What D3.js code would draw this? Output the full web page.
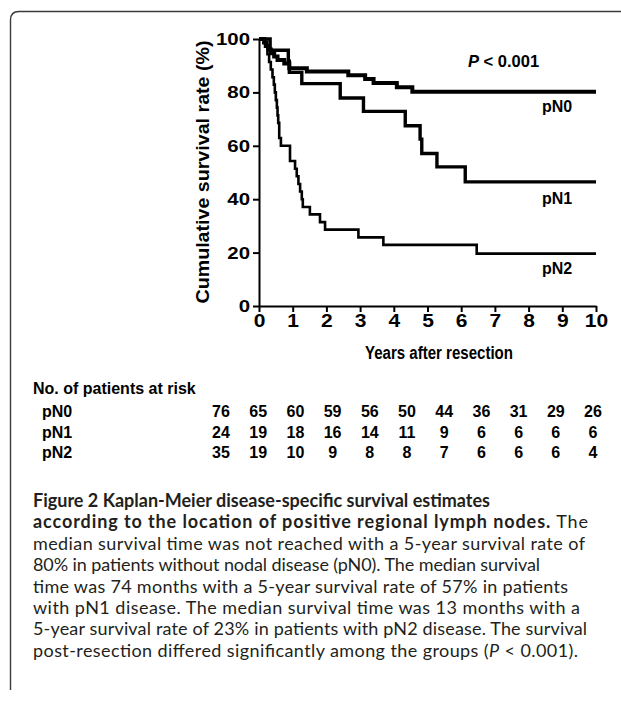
<!DOCTYPE html>
<html>
<head>
<meta charset="utf-8">
<script src="https://cdn.jsdelivr.net/npm/d3@7"></script>
<style>
  body { margin: 0; background: #fff; }
  svg { display: block; }
  .axis path, .axis line { stroke: #000; stroke-width: 2px; }
  .axis text { font-family: "Liberation Sans", Arial, sans-serif; font-weight: bold; font-size: 17px; fill: #000; }
  .lbl { font-family: "Liberation Sans", Arial, sans-serif; font-weight: bold; fill: #000; }
  .cap { font-family: Lato, "Open Sans", sans-serif; font-size: 18px; fill: #231f20; }
</style>
</head>
<body>
<div id="chart"></div>
<script>
// Axis ticks
const years = [0, 1, 2, 3, 4, 5, 6, 7, 8, 9, 10];
const yTicks = [0, 20, 40, 60, 80, 100];

// Kaplan-Meier steps (years, survival %)
const timesN0 = [0, 0.15, 0.22, 0.28, 0.35, 0.45, 0.55, 0.75, 0.9, 1.42, 2.65, 3.15, 3.4, 4.09, 4.55, 10];
const survN0  = [100, 98.7, 97.4, 96.1, 94.7, 93.4, 92.1, 90.8, 89.0, 87.8, 86.4, 85.0, 83.5, 81.9, 80.2, 80.2];

const timesN1 = [0, 0.33, 0.87, 0.9, 1.27, 2.41, 3.1, 4.34, 4.78, 4.83, 5.28, 6.12, 10];
const survN1  = [100, 95.8, 91.7, 87.5, 83.3, 77.9, 72.9, 67.5, 62.5, 57.1, 52.1, 46.5, 46.5];

const timesN2 = [0, 0.18, 0.25, 0.3, 0.35, 0.4, 0.44, 0.47, 0.5, 0.53, 0.55, 0.57, 0.6, 0.65, 0.92,
                 1.07, 1.12, 1.17, 1.22, 1.27, 1.3, 1.51, 1.81, 1.96, 2.95, 3.69, 6.46, 10];
const survN2  = [100, 97.1, 94.3, 91.4, 88.6, 85.7, 82.9, 80.0, 77.1, 74.3, 71.4, 68.6, 62.9, 60.0, 54.3,
                 51.4, 48.6, 45.7, 42.9, 40.0, 37.1, 34.3, 31.4, 28.6, 25.7, 22.9, 19.6, 19.6];

// Number at risk table
const groups = ["pN0", "pN1", "pN2"];
const atRiskN0 = [76, 65, 60, 59, 56, 50, 44, 36, 31, 29, 26];
const atRiskN1 = [24, 19, 18, 16, 14, 11, 9, 6, 6, 6, 6];
const atRiskN2 = [35, 19, 10, 9, 8, 8, 7, 6, 6, 6, 4];

const W = 621, H = 703;

const svg = d3.select("#chart")
    .append("svg")
    .attr("width", W)
    .attr("height", H);

// panel frame (rounded top-left corner)
svg.append("path")
    .attr("d", "M621,11.5 H19 Q10.5,11.5 10.5,20 V690")
    .attr("fill", "none")
    .attr("stroke", "#3a3a3a")
    .attr("stroke-width", 1.4);

// scales
const x = d3.scaleLinear().domain([0, 10]).range([259, 596]);
const y = d3.scaleLinear().domain([0, 100]).range([306, 39]);

// curves
const series = [
    { name: "pN0", t: timesN0, s: survN0, w: 4.0, ly: 112 },
    { name: "pN1", t: timesN1, s: survN1, w: 3.4, ly: 203.5 },
    { name: "pN2", t: timesN2, s: survN2, w: 2.6, ly: 273.5 }
];

const line = d3.line()
    .x(d => x(d[0]))
    .y(d => y(d[1]))
    .curve(d3.curveStepAfter);

series.forEach(sr => {
    svg.append("path")
        .datum(d3.zip(sr.t, sr.s))
        .attr("d", line)
        .attr("fill", "none")
        .attr("stroke", "#000")
        .attr("stroke-width", sr.w)
        .attr("stroke-linejoin", "miter");

    svg.append("text")
        .attr("class", "lbl")
        .attr("x", 542)
        .attr("y", sr.ly)
        .style("font-size", "16px")
        .text(sr.name);
});

// x axis
const gx = svg.append("g")
    .attr("class", "axis")
    .attr("transform", "translate(0,306)")
    .call(d3.axisBottom(x).tickValues(years).tickSize(6).tickSizeOuter(0));
gx.selectAll("text").attr("transform", "scale(1.2,1)").style("font-size", "17.5px");

// y axis
const gy = svg.append("g")
    .attr("class", "axis")
    .attr("transform", "translate(259,0)")
    .call(d3.axisLeft(y).tickValues(yTicks).tickSize(6).tickSizeOuter(0));
gy.selectAll("text").attr("x", -7.5).attr("transform", "scale(1.2,1)");

// axis titles
svg.append("text")
    .attr("class", "lbl")
    .attr("transform", "translate(209,172) rotate(-90)")
    .attr("text-anchor", "middle")
    .attr("textLength", 263)
    .attr("lengthAdjust", "spacingAndGlyphs")
    .style("font-size", "18.5px")
    .text("Cumulative survival rate (%)");

svg.append("text")
    .attr("class", "lbl")
    .attr("x", 439)
    .attr("y", 358.5)
    .attr("text-anchor", "middle")
    .attr("textLength", 148)
    .attr("lengthAdjust", "spacingAndGlyphs")
    .style("font-size", "18px")
    .text("Years after resection");

// P value
const pv = svg.append("text")
    .attr("class", "lbl")
    .attr("x", 468)
    .attr("y", 66.5)
    .style("font-size", "16.5px");
pv.append("tspan").style("font-style", "italic").text("P");
pv.append("tspan").text(" < 0.001");

// number at risk
svg.append("text")
    .attr("class", "lbl")
    .attr("x", 33)
    .attr("y", 393.5)
    .style("font-size", "16px")
    .text("No. of patients at risk");

const col = d3.scalePoint().domain(years).range([221, 593]);
const rows = [atRiskN0, atRiskN1, atRiskN2];
const rowY = d3.scalePoint().domain(groups).range([417, 458]);

groups.forEach((g, i) => {
    svg.append("text")
        .attr("class", "lbl")
        .attr("x", 42)
        .attr("y", rowY(g))
        .style("font-size", "16px")
        .text(g);

    svg.selectAll(null)
        .data(d3.zip(years, rows[i]))
        .enter()
        .append("text")
        .attr("class", "lbl")
        .attr("x", d => col(d[0]))
        .attr("y", rowY(g))
        .attr("text-anchor", "middle")
        .style("font-size", "16px")
        .text(d => d[1]);
});

// caption
const caption = [
    { b: "Figure 2 Kaplan-Meier disease-specific survival estimates", r: "", w: 457 },
    { b: "according to the location of positive regional lymph nodes.", r: " The", w: 555 },
    { b: "", r: "median survival time was not reached with a 5-year survival rate of", w: 552 },
    { b: "", r: "80% in patients without nodal disease (pN0). The median survival", w: 507 },
    { b: "", r: "time was 74 months with a 5-year survival rate of 57% in patients", w: 535 },
    { b: "", r: "with pN1 disease. The median survival time was 13 months with a", w: 547 },
    { b: "", r: "5-year survival rate of 23% in patients with pN2 disease. The survival", w: 554 },
    { b: "", r: "post-resection differed significantly among the groups (", r2: ").", w: 545 }
];

caption.forEach((c, i) => {
    const t = svg.append("text")
        .attr("class", "cap")
        .attr("x", 33)
        .attr("y", 507 + i * 21.4)
        .attr("textLength", c.w)
        .attr("lengthAdjust", "spacing");
    if (c.b) t.append("tspan").style("font-weight", "bold").text(c.b);
    if (c.r) t.append("tspan").text(c.r);
    if (c.r2 !== undefined) {
        t.append("tspan").style("font-style", "italic").text("P");
        t.append("tspan").text(" < 0.001" + c.r2);
    }
});
</script>
</body>
</html>
